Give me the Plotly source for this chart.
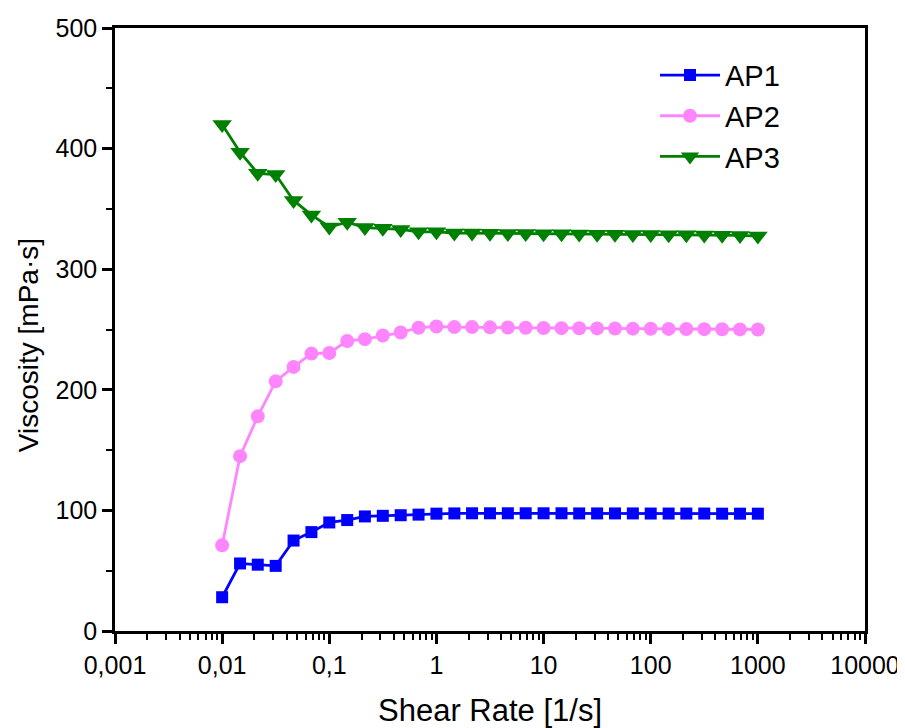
import plotly.graph_objects as go

shear_rate = [0.01, 0.0147, 0.0215, 0.0316, 0.0464, 0.0681,
              0.1, 0.147, 0.215, 0.316, 0.464, 0.681,
              1, 1.47, 2.15, 3.16, 4.64, 6.81,
              10, 14.7, 21.5, 31.6, 46.4, 68.1,
              100, 147, 215, 316, 464, 681, 1000]

ap1 = [28, 56, 55, 54, 75, 82, 90, 92, 95, 95.5, 96, 96.5, 97.3, 97.5, 97.6, 97.6, 97.6, 97.6,
       97.6, 97.6, 97.5, 97.5, 97.5, 97.5, 97.4, 97.4, 97.4, 97.4, 97.3, 97.3, 97.3]
ap2 = [71, 145, 178, 207, 219, 230, 230.5, 240.5, 242, 245, 247.5, 251.5, 252.5, 252, 252, 251.8,
       251.6, 251.4, 251.3, 251.1, 251, 250.9, 250.8, 250.7, 250.6, 250.5, 250.4, 250.3, 250.2, 250.1, 250]
ap3 = [420, 397, 379.5, 378.5, 357, 345, 335, 339, 334.5, 334, 333, 331, 331, 330, 330, 329.8,
       329.6, 329.5, 329.4, 329.3, 329.2, 329, 328.9, 328.8, 328.7, 328.6, 328.5, 328.3, 328.2, 328, 327.5]

x_tickvals = [0.001, 0.01, 0.1, 1, 10, 100, 1000, 10000]
x_ticktext = ["0,001", "0,01", "0,1", "1", "10", "100", "1000", "10000"]
x_minor = [m * d for d in [0.001, 0.01, 0.1, 1, 10, 100, 1000] for m in range(2, 10)]
y_tickvals = [0, 100, 200, 300, 400, 500]
y_minor = [50, 150, 250, 350, 450]

font_family = "Liberation Sans, Arial, sans-serif"

fig = go.Figure()
fig.add_trace(go.Scatter(x=shear_rate, y=ap1, name="AP1", mode="lines+markers",
                         line=dict(color="#0000FF", width=2.8),
                         marker=dict(symbol="square", size=12, color="#0000FF")))
fig.add_trace(go.Scatter(x=shear_rate, y=ap2, name="AP2", mode="lines+markers",
                         line=dict(color="#FF85FF", width=2.8),
                         marker=dict(symbol="circle", size=14, color="#FF85FF")))
fig.add_trace(go.Scatter(x=shear_rate, y=ap3, name="AP3", mode="lines+markers",
                         line=dict(color="#008000", width=2.8),
                         marker=dict(symbol="triangle-down", size=17, color="#008000")))

fig.update_layout(
    width=905, height=728,
    margin=dict(l=107, r=48, t=20, b=105),
    paper_bgcolor="white", plot_bgcolor="white",
    font=dict(family=font_family, color="black", size=25),
    legend=dict(x=0.72, y=0.964, xanchor="left", yanchor="top",
                font=dict(size=29), bgcolor="rgba(0,0,0,0)",
                tracegroupgap=0, itemwidth=60),
    xaxis=dict(type="log", range=[-3, 4], tickmode="array",
               tickvals=x_tickvals, ticktext=x_ticktext, automargin=False,
               ticks="outside", ticklen=10, tickwidth=2.5, tickcolor="black",
               showline=True, linecolor="black", linewidth=2.5, mirror=True,
               showgrid=False, zeroline=False,
               tickfont=dict(size=25),
               minor=dict(tickmode="array", tickvals=x_minor, ticks="outside",
                          ticklen=6, tickwidth=2, tickcolor="black", showgrid=False),
               title=dict(text="Shear Rate [1/s]", font=dict(size=31), standoff=22)),
    yaxis=dict(range=[0, 500], tickmode="array", tickvals=y_tickvals, automargin=False,
               ticks="outside", ticklen=10, tickwidth=2.5, tickcolor="black",
               showline=True, linecolor="black", linewidth=2.5, mirror=True,
               showgrid=False, zeroline=False,
               tickfont=dict(size=25),
               minor=dict(tickmode="array", tickvals=y_minor, ticks="outside",
                          ticklen=6, tickwidth=2, tickcolor="black", showgrid=False)),
    annotations=[dict(text="Viscosity [mPa·s]", textangle=-90, showarrow=False,
                      xref="paper", yref="paper", x=-0.116, y=0.474,
                      xanchor="center", yanchor="middle",
                      font=dict(size=28))],
)

fig.write_html("out.html")
